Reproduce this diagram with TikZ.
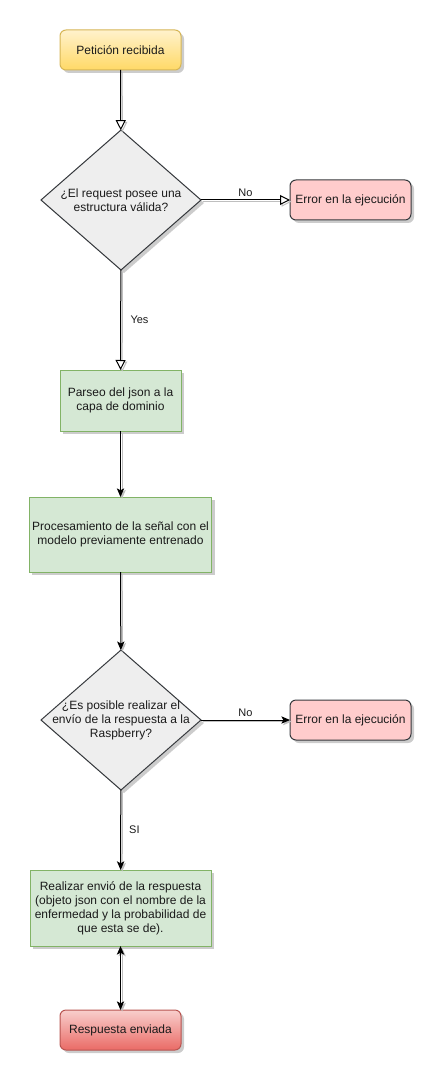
\documentclass[tikz,border=0pt]{standalone}
\usepackage{fontspec}
\setmainfont{Liberation Sans}
\usetikzlibrary{shapes.geometric,arrows.meta,shadows}
\definecolor{txtc}{HTML}{1A1A1A}
\definecolor{yelT}{HTML}{FFF2CC}
\definecolor{yelB}{HTML}{FFD966}
\definecolor{yelD}{HTML}{D6B656}
\definecolor{grnF}{HTML}{D5E8D4}
\definecolor{grnD}{HTML}{82B366}
\definecolor{redF}{HTML}{FFCCCC}
\definecolor{darkD}{HTML}{36393D}
\definecolor{redT}{HTML}{F8CECC}
\definecolor{redB}{HTML}{EA6B66}
\definecolor{redD}{HTML}{B85450}
\definecolor{greyF}{HTML}{EEEEEE}
\tikzset{
  base/.style={draw, line width=0.75pt, font=\fontsize{9}{10.5}\selectfont, text=txtc, align=center,
    inner sep=2pt, outer sep=0pt,
    drop shadow={shadow xshift=2.25pt, shadow yshift=-2.25pt, fill=black, opacity=0.2}},
  startbox/.style={base, rounded corners=4.5pt, top color=yelT, bottom color=yelB, draw=yelD},
  endbox/.style={base, rounded corners=4.5pt, top color=redT, bottom color=redB, draw=redD},
  errbox/.style={base, rounded corners=4.5pt, fill=redF, draw=darkD},
  procbox/.style={base, fill=grnF, draw=grnD},
  decision/.style={base, diamond, fill=greyF, draw=darkD, inner sep=0pt, minimum width=120pt, minimum height=105pt},
  dtext/.style={font=\fontsize{9}{10.5}\selectfont, text=txtc, align=center, inner sep=0pt},
  conn/.style={line width=0.75pt, draw=black,
    preaction={draw=black!25, line width=0.75pt, transform canvas={shift={(1.2pt,-1.2pt)}}}},
  openarr/.style={conn, -{Triangle[length=7.5pt, width=7.5pt, fill=white]}},
  fillarr/.style={conn, -{Stealth[length=6.5pt, width=5.5pt, inset=1.5pt]}},
  bothArr/.style={conn, {Stealth[length=6.5pt, width=5.5pt, inset=1.5pt]}-{Stealth[length=6.5pt, width=5.5pt, inset=1.5pt]}},
  elabel/.style={font=\fontsize{8.25}{9.5}\selectfont, text=txtc, inner sep=2pt},
}
\begin{document}
\begin{tikzpicture}[x=0.75pt, y=-0.75pt]
\useasboundingbox (0,0) rectangle (443,1084);
\node[startbox, minimum width=90.75pt, minimum height=30pt] (start) at (120.5,50) {Petición recibida};
\node[decision] (d1) at (121,200) {};
\node[dtext] (d1t) at (121,200) {¿El request posee una\\estructura válida?};
\node[errbox, minimum width=90.75pt, minimum height=30pt] (err1) at (350.5,200) {Error en la ejecución};
\node[procbox, minimum width=90.75pt, minimum height=45.75pt] (parse) at (120.5,400.5) {Parseo del json a la\\capa de dominio};
\node[procbox, minimum width=135.75pt, minimum height=56.25pt] (proc) at (120.5,534.5) {Procesamiento de la señal con el\\modelo previamente entrenado};
\node[decision] (d2) at (121,720) {};
\node[dtext] (d2t) at (121,720) {¿Es posible realizar el\\envío de la respuesta a la\\Raspberry?};
\node[errbox, minimum width=90.75pt, minimum height=30pt] (err2) at (350.5,720) {Error en la ejecución};
\node[procbox, minimum width=135.75pt, minimum height=57pt] (send) at (120.5,908) {Realizar envió de la respuesta\\(objeto json con el nombre de la\\enfermedad y la probabilidad de\\que esta se de).};
\node[endbox, minimum width=90.75pt, minimum height=30pt] (resp) at (120.5,1030) {Respuesta enviada};

\draw[openarr] (start) -- (d1);
\draw[openarr] (d1) -- node[elabel, above] (lno1) {No} (err1);
\draw[openarr] (d1) -- node[elabel, right, xshift=5pt] (lyes) {Yes} (parse);
\draw[fillarr] (parse) -- (proc);
\draw[fillarr] (proc) -- (d2);
\draw[fillarr] (d2) -- node[elabel, above] (lno2) {No} (err2);
\draw[fillarr] (d2) -- node[elabel, right, xshift=4pt] (lsi) {SI} (send);
\draw[bothArr] (send) -- (resp);
\end{tikzpicture}
\end{document}
